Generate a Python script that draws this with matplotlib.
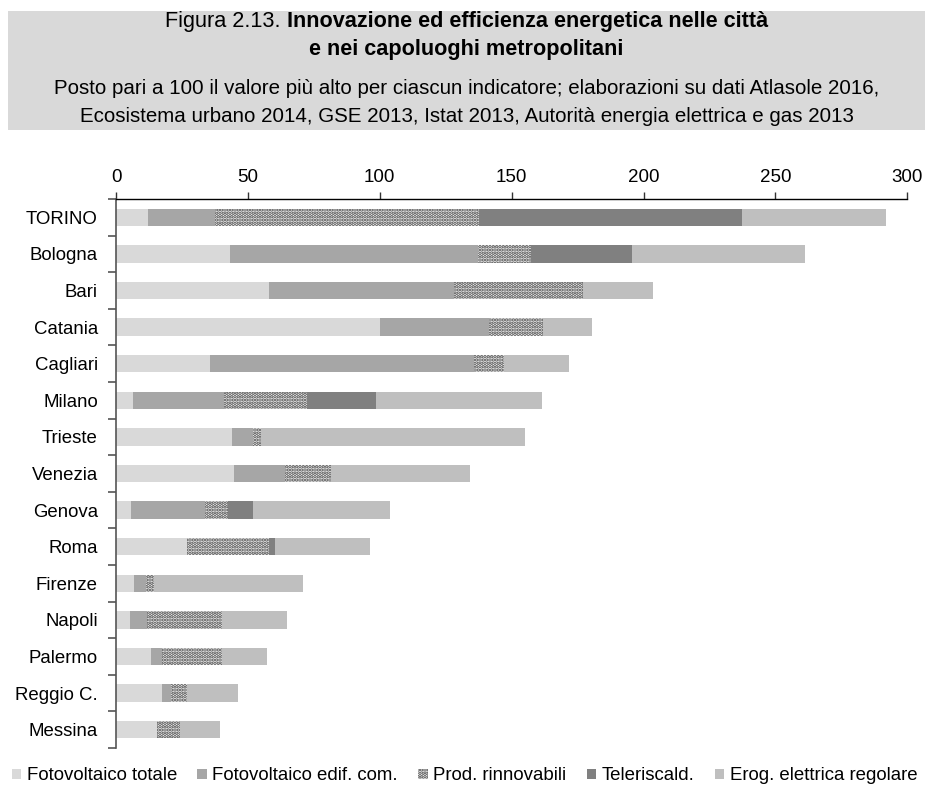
import matplotlib
matplotlib.use("Agg")
import matplotlib.pyplot as plt
import numpy as np
from matplotlib.patches import Rectangle

plt.rcParams['font.family'] = ['Liberation Sans', 'DejaVu Sans']
plt.rcParams['hatch.linewidth'] = 1.7

cities = ["TORINO", "Bologna", "Bari", "Catania", "Cagliari", "Milano", "Trieste",
          "Venezia", "Genova", "Roma", "Firenze", "Napoli", "Palermo", "Reggio C.", "Messina"]

series_names = ["Fotovoltaico totale", "Fotovoltaico edif. com.", "Prod. rinnovabili",
                "Teleriscald.", "Erog. elettrica regolare"]

fotovoltaico_totale = [12.0, 43.2, 58.1, 100.0, 35.8, 6.6, 44.0, 44.6, 5.6, 26.9, 6.9, 5.3, 13.1, 17.6, 15.7]
fotovoltaico_edif = [25.5, 94.0, 70.0, 41.5, 100.0, 34.3, 8.1, 19.6, 28.1, 0.0, 4.4, 6.3, 4.3, 3.1, 0.0]
prod_rinnovabili = [100.0, 20.1, 48.8, 20.2, 11.4, 31.4, 2.9, 17.4, 8.6, 31.2, 3.0, 28.6, 22.8, 6.1, 8.6]
teleriscaldamento = [100.0, 38.2, 0.0, 0.0, 0.0, 26.3, 0.0, 0.0, 9.8, 2.2, 0.0, 0.0, 0.0, 0.0, 0.0]
erogazione = [54.3, 65.8, 26.7, 18.6, 24.4, 63.0, 100.0, 52.5, 51.9, 36.1, 56.7, 24.5, 16.9, 19.4, 15.2]

x_ticks = [0, 50, 100, 150, 200, 250, 300]

series = [fotovoltaico_totale, fotovoltaico_edif, prod_rinnovabili, teleriscaldamento, erogazione]
styles = [
    dict(color="#d9d9d9"),
    dict(color="#a6a6a6"),
    dict(facecolor="#f2f2f2", edgecolor="#454545", hatch=".....", linewidth=0),
    dict(color="#808080"),
    dict(color="#bfbfbf"),
]

fig = plt.figure(figsize=(9.25, 7.94), dpi=100)

# grey header band
fig.patches.append(Rectangle((8 / 925, 1 - 130 / 794), 1 - 8 / 925, (130 - 11) / 794,
                             transform=fig.transFigure, facecolor="#d9d9d9",
                             edgecolor="none", zorder=0))

ax = fig.add_axes([116 / 925, 1 - 748 / 794, (907.3 - 116) / 925, (748 - 199) / 794])

y = np.arange(len(cities))
left = np.zeros(len(cities))
handles = []
for name, vals, st in zip(series_names, series, styles):
    vals = np.array(vals)
    b = ax.barh(y, vals, left=left, height=0.475, label=name, **st)
    handles.append(b)
    left += vals

ax.set_ylim(len(cities) - 0.5, -0.5)
ax.set_xlim(0, 300)
ax.set_xticks(x_ticks)
ax.xaxis.tick_top()
ax.tick_params(axis="x", direction="out", length=5, width=1, labelsize=13.5, pad=4, color="#333333")
ax.set_yticks(y)
ax.set_yticklabels(cities)
ax.tick_params(axis="y", which="major", length=0, labelsize=13.4, pad=13)
ax.set_yticks(np.arange(-0.5, len(cities), 1.0), minor=True)
ax.tick_params(axis="y", which="minor", direction="out", length=6, width=1.2, color="#555555")
for s in ["right", "bottom"]:
    ax.spines[s].set_visible(False)
ax.spines["top"].set_linewidth(1.0)
ax.spines["left"].set_color("#555555")
ax.spines["left"].set_linewidth(1.2)

leg = fig.legend(handles=handles, loc="center", bbox_to_anchor=(0.5 + 2 / 925, 1 - 776 / 794), ncol=5,
                 frameon=False, fontsize=13.4, handlelength=0.5, handleheight=0.5,
                 handletextpad=0.3, columnspacing=1.1, borderaxespad=0, borderpad=0)

# header texts: a regular prefix followed by a bold title
fig.canvas.draw()
renderer = fig.canvas.get_renderer()


def mixed_line(parts, ycenter, size):
    texts = []
    for txt, weight in parts:
        t = fig.text(0, 1 - ycenter / 794, txt, fontsize=size, fontweight=weight,
                     ha="left", va="center")
        texts.append(t)
    widths = [t.get_window_extent(renderer).width for t in texts]
    total = sum(widths)
    x = (925 - total) / 2 + 4
    for t, w in zip(texts, widths):
        t.set_x(x / 925)
        x += w


mixed_line([("Figura 2.13. ", "normal"),
            ("Innovazione ed efficienza energetica nelle città", "bold")], 21, 15.6)
mixed_line([("e nei capoluoghi metropolitani", "bold")], 50, 15.6)
fig.text(0.5 + 4 / 925, 1 - 89 / 794,
         "Posto pari a 100 il valore più alto per ciascun indicatore; elaborazioni su dati Atlasole 2016,",
         ha="center", va="center", fontsize=14.8)
fig.text(0.5 + 4 / 925, 1 - 117 / 794,
         "Ecosistema urbano 2014, GSE 2013, Istat 2013, Autorità energia elettrica e gas 2013",
         ha="center", va="center", fontsize=14.8)

fig.savefig("out.png", dpi=100)
